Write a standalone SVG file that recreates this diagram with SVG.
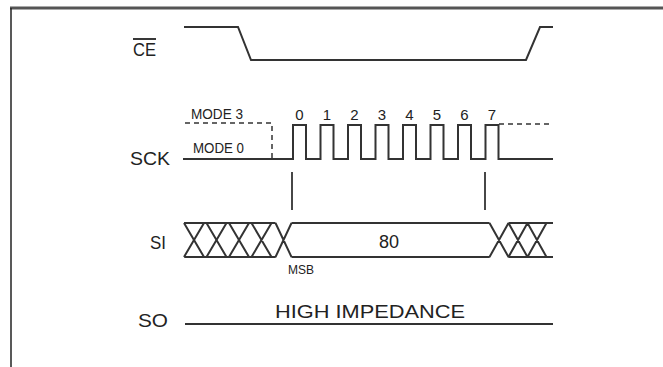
<svg xmlns="http://www.w3.org/2000/svg" width="663" height="367" viewBox="0 0 663 367">
<style>
.w{fill:none;stroke:#333;stroke-width:2;stroke-linejoin:miter}
.d{fill:none;stroke:#333;stroke-width:1.5;stroke-dasharray:5,4}
.lbl{font-family:"Liberation Sans",Arial,sans-serif;fill:#222;font-size:18px}
.sm{font-family:"Liberation Sans",Arial,sans-serif;fill:#222;font-size:14px}
.dg{font-family:"Liberation Sans",Arial,sans-serif;fill:#222;font-size:15px;text-anchor:middle}
</style>
<rect width="663" height="367" fill="#fff"/>
<g id="frame">
<line x1="10" y1="8" x2="663" y2="8" stroke="#555" stroke-width="3"/>
<line x1="11" y1="8" x2="11" y2="367" stroke="#222" stroke-width="1.5"/>
</g>
<g id="ce">
<text class="lbl" x="133" y="56" textLength="23" lengthAdjust="spacingAndGlyphs">CE</text>
<line x1="133" y1="39" x2="156" y2="39" stroke="#222" stroke-width="1.8"/>
<path class="w" d="M184,27 H238 L251,60 H526 L540,27 H553"/>
</g>
<g id="sck">
<text class="lbl" x="130" y="165" textLength="40" lengthAdjust="spacingAndGlyphs">SCK</text>
<text class="sm" x="191" y="119" textLength="52" lengthAdjust="spacingAndGlyphs">MODE 3</text>
<text class="sm" x="193" y="153" textLength="51" lengthAdjust="spacingAndGlyphs">MODE 0</text>
<path class="d" d="M185,123 H272 V158"/>
<path class="d" d="M499,124 H553"/>
<path class="w" d="M183,159 H293 V125 H306 V159 H320.5 V125 H333.5 V159 H348 V125 H361 V159 H375.5 V125 H388.5 V159 H403 V125 H416 V159 H430.5 V125 H443.5 V159 H458 V125 H471 V159 H485.5 V125 H498.5 V159 H553"/>
<text class="dg" x="299.5" y="120">0</text>
<text class="dg" x="327" y="120">1</text>
<text class="dg" x="354.5" y="120">2</text>
<text class="dg" x="382" y="120">3</text>
<text class="dg" x="409.5" y="120">4</text>
<text class="dg" x="437" y="120">5</text>
<text class="dg" x="464.5" y="120">6</text>
<text class="dg" x="492" y="120">7</text>
</g>
<g id="connectors">
<line x1="292" y1="172" x2="292" y2="210" stroke="#333" stroke-width="1.8"/>
<line x1="485" y1="172" x2="485" y2="210" stroke="#333" stroke-width="1.8"/>
</g>
<g id="si">
<text class="lbl" x="150" y="249" textLength="16" lengthAdjust="spacingAndGlyphs">SI</text>
<path class="w" d="M184,223 H275.5 M184,257 H275.5
M184,223 L204,257 M184,257 L204,223
M206.5,223 L226.5,257 M206.5,257 L226.5,223
M229,223 L249,257 M229,257 L249,223
M251.5,223 L271.5,257 M251.5,257 L271.5,223
M275.5,223 L291.5,257 M275.5,257 L291.5,223
M291.5,223 H489.5 M291.5,257 H489.5
M489.5,223 L508.5,257 M489.5,257 L508.5,223
M508.5,223 L527.5,257 M508.5,257 L527.5,223
M527.5,223 L546.5,257 M527.5,257 L546.5,223
M508.5,223 H553 M508.5,257 H553"/>
<text class="lbl" x="389" y="248" text-anchor="middle">80</text>
<text class="sm" x="288" y="274" textLength="26" lengthAdjust="spacingAndGlyphs" style="font-size:12px">MSB</text>
</g>
<g id="so">
<text class="lbl" x="138" y="327" textLength="30" lengthAdjust="spacingAndGlyphs">SO</text>
<text class="lbl" x="275" y="318" textLength="190" lengthAdjust="spacingAndGlyphs">HIGH IMPEDANCE</text>
<line x1="185" y1="324" x2="553" y2="324" stroke="#333" stroke-width="2"/>
</g>
</svg>
